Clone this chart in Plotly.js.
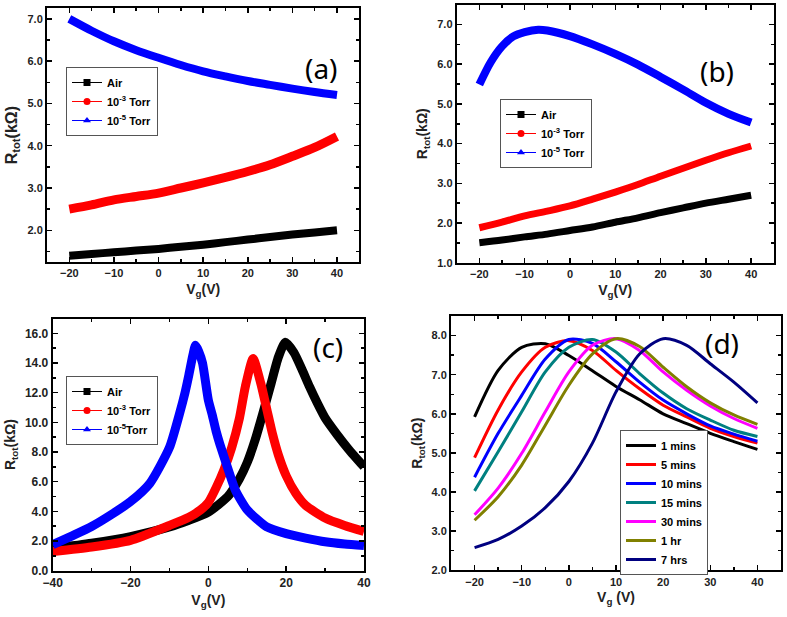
<!DOCTYPE html>
<html>
<head>
<meta charset="utf-8">
<script src="https://cdn.plot.ly/plotly-3.0.1.min.js"></script>
<style>html,body{margin:0;padding:0;background:#fff;}#chart{width:787px;height:617px;}</style>
</head>
<body>
<div id="chart"></div>
<script>
// ---------- Data ----------
// Panel (a)
const aV   = [-20,-15,-10,-5,0,5,10,15,20,25,30,35,40];
const aAir = [1.40,1.44,1.48,1.52,1.56,1.61,1.66,1.72,1.78,1.84,1.90,1.95,2.00];
const aT3  = [2.50,2.60,2.72,2.80,2.88,3.00,3.12,3.25,3.39,3.55,3.75,3.96,4.22];
const aT5  = [7.00,6.72,6.47,6.26,6.08,5.91,5.76,5.64,5.53,5.44,5.35,5.27,5.20];
// Panel (b)
const bV   = [-20,-15,-10,-5,0,5,10,15,20,25,30,35,40];
const bAir = [1.50,1.57,1.65,1.72,1.81,1.90,2.02,2.13,2.26,2.38,2.50,2.60,2.70];
const bT3  = [1.88,2.02,2.18,2.30,2.43,2.60,2.78,2.97,3.18,3.38,3.58,3.77,3.94];
const bT5V = [-20,-17.5,-15,-12.5,-10,-7,-5,0,5,10,15,20,25,30,35,40];
const bT5  = [5.49,6.05,6.45,6.70,6.81,6.87,6.85,6.71,6.50,6.26,5.99,5.68,5.36,5.03,4.75,4.53];
// Panel (c)
const cAirV = [-40,-30,-20,-10,-5,0,5,8,10,12,14,16,18,19.8,22,24,26,28,30,33,36,40];
const cAir  = [1.50,1.85,2.30,2.95,3.40,3.95,5.00,6.20,7.30,8.80,10.60,12.50,14.40,15.40,14.70,13.60,12.40,11.30,10.30,9.20,8.20,7.00];
const cT3V  = [-40,-30,-20,-10,-5,-2,0,2,4,6,8,9.5,11.5,13.5,15,16.5,18,20,22.5,25,30,35,40];
const cT3   = [1.30,1.60,2.05,3.05,3.60,4.10,4.60,5.60,6.80,8.30,10.30,12.40,14.30,12.60,10.90,9.20,7.80,6.40,5.20,4.40,3.55,3.05,2.65];
const cT5V  = [-40,-35,-30,-25,-20,-15,-10,-7.5,-6,-5,-4,-3.3,-2.5,-1.5,0,1,2,3,5,7,10,15,20,25,30,35,40];
const cT5   = [1.75,2.35,2.98,3.77,4.66,5.90,8.30,10.50,12.00,13.20,14.50,15.20,14.80,14.00,11.50,10.50,9.40,8.50,6.90,5.40,4.10,2.95,2.50,2.20,1.95,1.80,1.70];
// Panel (d)
const dV   = [-20,-15,-10,-5,0,5,10,15,20,25,30,35,40];
const d1m  = [5.92,7.11,7.70,7.79,7.49,7.10,6.70,6.36,6.00,5.75,5.50,5.29,5.09];
const d5m  = [4.88,6.10,7.07,7.70,7.87,7.62,7.11,6.64,6.22,5.92,5.63,5.42,5.25];
const d10m = [4.38,5.50,6.47,7.40,7.90,7.80,7.33,6.81,6.35,6.00,5.69,5.48,5.30];
const d15m = [4.03,5.03,6.05,7.07,7.70,7.90,7.58,7.03,6.53,6.13,5.84,5.58,5.42];
const d30m = [3.42,4.10,4.99,6.05,7.07,7.75,7.92,7.62,7.07,6.60,6.20,5.88,5.63];
const d1h  = [3.28,3.88,4.69,5.71,6.73,7.53,7.92,7.72,7.19,6.69,6.28,5.97,5.73];
const d7h  = [2.58,2.79,3.13,3.60,4.27,5.25,6.56,7.53,7.92,7.75,7.28,6.81,6.28];

const abcNames = ['Air','10<sup>-3</sup> Torr','10<sup>-5</sup> Torr'];
const cNames   = ['Air','10<sup>-3</sup> Torr','10<sup>-5</sup>Torr'];
const dNames   = ['1 mins','5 mins','10 mins','15 mins','30 mins','1 hr','7 hrs'];

// ---------- Styles ----------
const C3 = ['#000000','#ff0000','#0000ff'];
const SYM = ['square','circle','triangle-up'];
const C7 = ['#000000','#ff0000','#0000ff','#008080','#ff00ff','#808000','#000080'];
const FONT = 'Liberation Sans, Arial, sans-serif';

const traces = [];
function band(x, y, color, xa, ya, w, sm) {
  traces.push({x:x, y:y, xaxis:xa, yaxis:ya, mode:'lines', showlegend:false, hoverinfo:'skip',
    line:{color:color, width:w, shape:'spline', smoothing:sm}});
}
function legendItem(name, color, sym, xa, ya, leg) {
  traces.push({x:[null], y:[null], xaxis:xa, yaxis:ya, name:name, legend:leg, mode:'lines+markers',
    line:{color:color, width:1}, marker:{color:color, symbol:sym, size:7}});
}
// (a)
band(aV, aAir, C3[0], 'x', 'y', 8, 0.8);
band(aV, aT3,  C3[1], 'x', 'y', 9, 0.8);
band(aV, aT5,  C3[2], 'x', 'y', 8, 0.8);
// (b)
band(bV, bAir, C3[0], 'x2', 'y2', 7, 0.8);
band(bV, bT3,  C3[1], 'x2', 'y2', 7, 0.8);
band(bT5V, bT5, C3[2], 'x2', 'y2', 8, 0.8);
// (c)
band(cAirV, cAir, C3[0], 'x3', 'y3', 9, 0.6);
band(cT3V,  cT3,  C3[1], 'x3', 'y3', 9, 0.6);
band(cT5V,  cT5,  C3[2], 'x3', 'y3', 9, 0.6);
for (let i = 0; i < 3; i++) legendItem(abcNames[i], C3[i], SYM[i], 'x', 'y', 'legend');
for (let i = 0; i < 3; i++) legendItem(abcNames[i], C3[i], SYM[i], 'x2', 'y2', 'legend2');
for (let i = 0; i < 3; i++) legendItem(cNames[i], C3[i], SYM[i], 'x3', 'y3', 'legend3');
// (d)
const dSeries = [d1m, d5m, d10m, d15m, d30m, d1h, d7h];
dSeries.forEach((s, i) => {
  traces.push({x:dV, y:s, xaxis:'x4', yaxis:'y4', name:dNames[i], legend:'legend4', mode:'lines',
    line:{color:C7[i], width:3, shape:'spline', smoothing:0.8}});
});

const W = 787, H = 617;
const fx = p => p / W, fy = p => 1 - p / H;

function xax(dom, range, dtick, anchor, ttl, tsize, titleSize) {
  return {domain:[fx(dom[0]), fx(dom[1])], range:range, anchor:anchor, dtick:dtick, tick0:0,
    ticks:'inside', ticklen:5, tickwidth:1.5, tickcolor:'#000', mirror:'ticks', showline:true,
    linecolor:'#000', linewidth:2, showgrid:false, zeroline:false,
    minor:{dtick:dtick/2, ticks:'inside', ticklen:3, tickwidth:1.5, tickcolor:'#000'},
    tickfont:{family:FONT, size:tsize, weight:'bold', color:'#222'},
    title:{text:ttl, font:{family:FONT, size:titleSize || 14, weight:'bold', color:'#222'}, standoff:6}};
}
function yax(dom, range, dtick, anchor, ttl, tsize, titleSize) {
  const o = xax([0,1], range, dtick, anchor, ttl, tsize, titleSize);
  o.domain = [fy(dom[1]), fy(dom[0])];
  o.tickformat = '.1f';
  return o;
}
const vt = 'V<sub>g</sub>(V)', vt4 = 'V<sub>g</sub> (V)', rt = 'R<sub>tot</sub>(kΩ)';
const LBL = {family:'Noto Sans, Open Sans, sans-serif', size:28, color:'#000'};
const layout = {
  width:W, height:H, margin:{l:0,r:0,t:0,b:0}, paper_bgcolor:'#fff', plot_bgcolor:'#fff',
  showlegend:true,
  xaxis:  xax([47, 359.3],  [-25,45], 10, 'y',  vt, 11),
  yaxis:  yax([8.3, 262],   [1.25,7.25], 1, 'x', rt, 11, 16),
  xaxis2: xax([456.7, 773.8], [-25,45], 10, 'y2', vt, 11),
  yaxis2: yax([4.7, 262.7], [1,7.5], 1, 'x2', rt, 11),
  xaxis3: xax([52.7, 364],  [-40,40], 20, 'y3', vt, 12),
  yaxis3: yax([318.5, 570.7], [0,17], 2, 'x3', rt, 12),
  xaxis4: xax([451, 781],   [-25,45], 10, 'y4', vt4, 11),
  yaxis4: yax([316, 570.3], [2,8.5], 1, 'x4', rt, 11),
  annotations: [
    {text:'(a)', x:fx(321), y:fy(47), xref:'paper', yref:'paper', showarrow:false, font:LBL},
    {text:'(b)', x:fx(736), y:fy(50), xref:'paper', yref:'paper', showarrow:false, font:LBL},
    {text:'(c)', x:fx(328), y:fy(347), xref:'paper', yref:'paper', showarrow:false, font:LBL},
    {text:'(d)', x:fx(741), y:fy(343), xref:'paper', yref:'paper', showarrow:false, font:LBL}
  ]
};
const legStyle = (x, y, fs) => ({x:fx(x), y:fy(y), xanchor:'left', yanchor:'top', xref:'paper', yref:'paper',
  bgcolor:'#fff', bordercolor:'#555', borderwidth:1, font:{family:FONT, size:fs, weight:'bold', color:'#000'},
  tracegroupgap:0, itemwidth:30});
layout.legend  = legStyle(66, 67, 11);
layout.legend2 = legStyle(500, 99, 11);
layout.legend3 = legStyle(66, 376, 11);
layout.legend4 = legStyle(620, 430, 11);

Plotly.newPlot('chart', traces, layout, {displayModeBar:false, staticPlot:true});
</script>
</body>
</html>
